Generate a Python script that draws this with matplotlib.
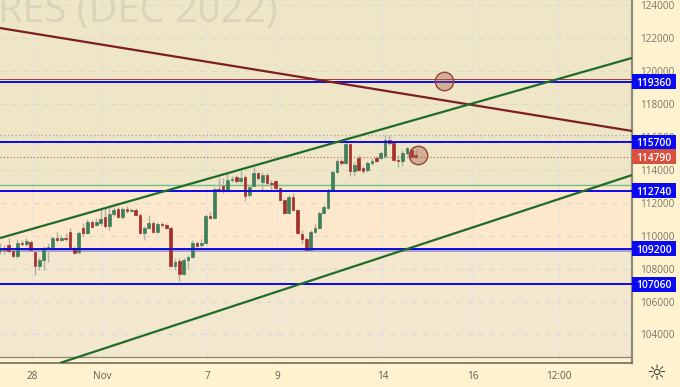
import matplotlib
matplotlib.use("Agg")
import matplotlib.pyplot as plt
from matplotlib.patches import Rectangle

# ---- data -------------------------------------------------------------
opens = [109070,109260,109440,109070,108770,109560,109500,109620,109010,108160,
         108530,109260,109320,109860,109740,109860,110230,109260,109010,110470,
         110170,110840,110650,110780,111140,110590,111320,111630,111140,111630,
         111510,111570,111260,110170,110470,110780,110230,110710,110650,110470,
         108160,108470,107680,108530,108710,109560,109440,109560,111200,111080,
         112840,113020,112720,113390,113570,113330,113570,112480,113020,113820,
         113270,113690,113210,113330,112900,112170,111380,112360,111570,110110,
         109800,109130,110230,110470,111380,111690,112780,113880,114550,114430,
         115580,113940,114730,114120,113990,114430,114730,114730,114850,115820,
         115640,114610,114550,115030,115210,114910]
closes = [109260,109130,109070,108770,109560,109500,109680,109130,108160,108530,
          109260,109320,109860,109740,109860,109800,109260,108950,110170,110170,
          110840,110530,110840,111020,110590,111320,111570,111140,111630,111510,
          111570,111260,110170,110470,110780,110230,110710,110650,110470,108160,
          108410,107680,108530,108710,109560,109380,109560,111200,111080,112840,
          112780,112720,113390,113450,113330,113510,112420,112960,113820,113510,
          113690,113210,113150,112900,112170,111380,112360,111570,110170,109800,
          109130,110230,110470,111380,111750,112780,113880,114550,114430,115580,
          113940,114300,113990,113940,114430,114550,114550,115030,115820,115640,
          114610,114550,115030,115340,114790,114790]
highs = [109560,109440,109860,109190,109800,109740,109860,109740,109130,108710,
         109380,109560,109990,110230,110050,110170,110470,109380,110290,110780,
         111020,110960,111080,111630,111690,111870,111750,111750,111750,111810,
         111690,111690,111380,110590,111260,110900,110840,110840,110780,110590,
         108650,108650,108650,108830,109740,109680,109800,111320,111450,112960,
         113510,113510,113820,113630,113690,113990,113690,113090,114180,113880,
         113880,113820,113390,113390,112960,112240,112480,112600,111630,110350,
         109930,110350,110710,111510,111870,112900,113990,114670,114670,115700,
         115640,114490,114910,114240,114550,114730,114850,115150,116130,116130,
         115760,114910,115210,115400,115270,115210]
lows = [108890,108890,108950,108650,108650,109380,109380,109070,107610,107920,
        107920,108410,109190,109620,109680,109680,109190,108890,108890,109990,
        110110,110470,110590,110590,110470,110350,111200,111080,111020,111380,
        111450,111200,110110,109740,110410,110170,110170,110530,110410,108100,
        107920,107250,107610,107980,108650,109320,109320,109500,111020,111020,
        112660,112600,112660,113270,113210,113210,112110,112360,112960,113390,
        112780,113150,112780,112780,112110,111320,111320,111510,110110,109500,
        109070,109070,110170,110410,111320,111630,112720,113820,114300,114360,
        113630,113630,113940,113820,113880,114300,114490,114670,114730,115520,
        114550,114180,114240,114910,114730,114730]

level_prices = [119360, 115700, 112740, 109200, 107060]
last_price = 114790
y_ticks = [124000,122000,120000,118000,116000,114000,112000,110000,108000,106000,104000]
x_tick_pos = [7.3, 23.3, 47.3, 63.4, 87.4, 108.2, 127.7]
x_tick_labels = ["28", "Nov", "7", "9", "14", "16", "12:00"]
red_line_x, red_line_y = [0, 144.46], [122630, 116370]
upper_x, upper_y = [0, 144.46], [109860, 120810]
lower_x, lower_y = [13.7, 144.46], [102264, 113690]
circle_x, circle_y = [101.5, 95.5], [119410, 114910]
red_thin = 119530
teal_line = 113090
high_dotted = 116130
bottom_line = 102630

BG = "#FFF2CE"
plt.rcParams["font.family"] = ["Open Sans", "DejaVu Sans"]
fig = plt.figure(figsize=(6.8, 3.87), dpi=100, facecolor=BG)
ax = fig.add_axes([0, 24/387, 632/680, 363/387])
ax.set_xlim(0, 144.46)
ax.set_ylim(102264, 124334)
ax.set_facecolor(BG)

# zones
ax.axhspan(teal_line, 124334, color="#EEE6C6", lw=0, zorder=0)
ax.axhspan(109150, teal_line, color="#FDE8CB", lw=0, zorder=0)
ax.axhspan(bottom_line, 109150, color="#F3E8CF", lw=0, zorder=0)

# grid
for p in y_ticks:
    ax.axhline(p, color="#DAD8D0", lw=0.8, dashes=(5, 5), zorder=1)
for x in x_tick_pos:
    ax.axvline(x, ymin=(bottom_line-102264)/(124334-102264), color="#E0DFE2", lw=0.8, dashes=(5, 5), zorder=1)

# watermark
ax.text(278/4.375, 124000-(22-5.5)*60.8, "RES (DEC 2022)", ha="right", va="baseline",
        fontsize=28.6, color="#DAD4BA", zorder=1, clip_on=True)

ax.axhline(bottom_line, color="#8F8F80", lw=1.0, zorder=2)
ax.axhline(teal_line, color="#6CBF8E", lw=1.0, zorder=2)
ax.axhline(red_thin, color="#A33A3A", lw=0.7, zorder=2)
ax.axhline(high_dotted, color="#A8A498", lw=0.9, ls=(0, (1, 2)), zorder=2)
ax.axhline(last_price, color="#C0604A", lw=0.8, ls=(0, (1, 2)), zorder=2)
ax.axhspan(108990, 109170, color="#A9A2C0", lw=0, zorder=2)

# candles
UP, DOWN = "#3E7F5C", "#A5302B"
for i, (o, c, h, l) in enumerate(zip(opens, closes, highs, lows)):
    ax.vlines(i, l, h, color="#B0AFA5", lw=1.0, zorder=3)
    col = UP if c >= o else DOWN
    low, height = min(o, c), max(abs(c - o), 50)
    ax.bar(i, height, bottom=low, width=0.62, color=col, edgecolor=col, lw=0.5, zorder=4)

# horizontal levels
for p in level_prices:
    ax.axhline(p, color="#0A0AE6", lw=1.4, zorder=5)

# trend lines
ax.plot(red_line_x, red_line_y, color="#7C1E22", lw=1.6, zorder=6, solid_capstyle="butt")
ax.plot(upper_x, upper_y, color="#1F6B2A", lw=1.6, zorder=6, solid_capstyle="butt")
ax.plot(lower_x, lower_y, color="#1F6B2A", lw=1.6, zorder=6, solid_capstyle="butt")

# circles
ax.scatter(circle_x, circle_y, s=175, facecolor=(0.64, 0.35, 0.28, 0.38),
           edgecolor="#96403C", linewidth=1.0, zorder=7)

# axes frame
for s in ["top", "left"]:
    ax.spines[s].set_visible(False)
ax.spines["right"].set_color("#8C8C7E")
ax.spines["right"].set_linewidth(1.6)
ax.spines["bottom"].set_color("#6F6F62")
ax.spines["bottom"].set_linewidth(1.2)

ax.yaxis.tick_right()
ax.set_yticks(y_ticks)
ax.set_yticklabels([str(v) for v in y_ticks])
ax.tick_params(axis="y", length=0, pad=6, labelsize=7.2, labelcolor="#77776A")
ax.set_xticks(x_tick_pos)
ax.set_xticklabels(x_tick_labels)
ax.tick_params(axis="x", length=0, pad=5.5, labelsize=7.2, labelcolor="#5F5F55")

# price badges
tr = ax.get_yaxis_transform()
box_w = 44/632
box_h = 15*60.8
for p in level_prices + [last_price]:
    col = "#D9503F" if p == last_price else "#0A0AF0"
    ax.add_patch(Rectangle((1.0, p - box_h/2), box_w, box_h, transform=tr, facecolor=col,
                           edgecolor="none", clip_on=False, zorder=8))
    ax.text(1.0 + box_w/2, p, str(p), transform=tr, color="white", fontsize=7.4,
            fontweight="semibold", ha="center", va="center_baseline", zorder=9, clip_on=False)

# settings icon
fig.text(656/680, 1-374/387, "\u263C", family="DejaVu Sans", fontsize=16,
         ha="center", va="center", color="#3A3A3A")

fig.savefig("out.png", dpi=100, facecolor=BG)
